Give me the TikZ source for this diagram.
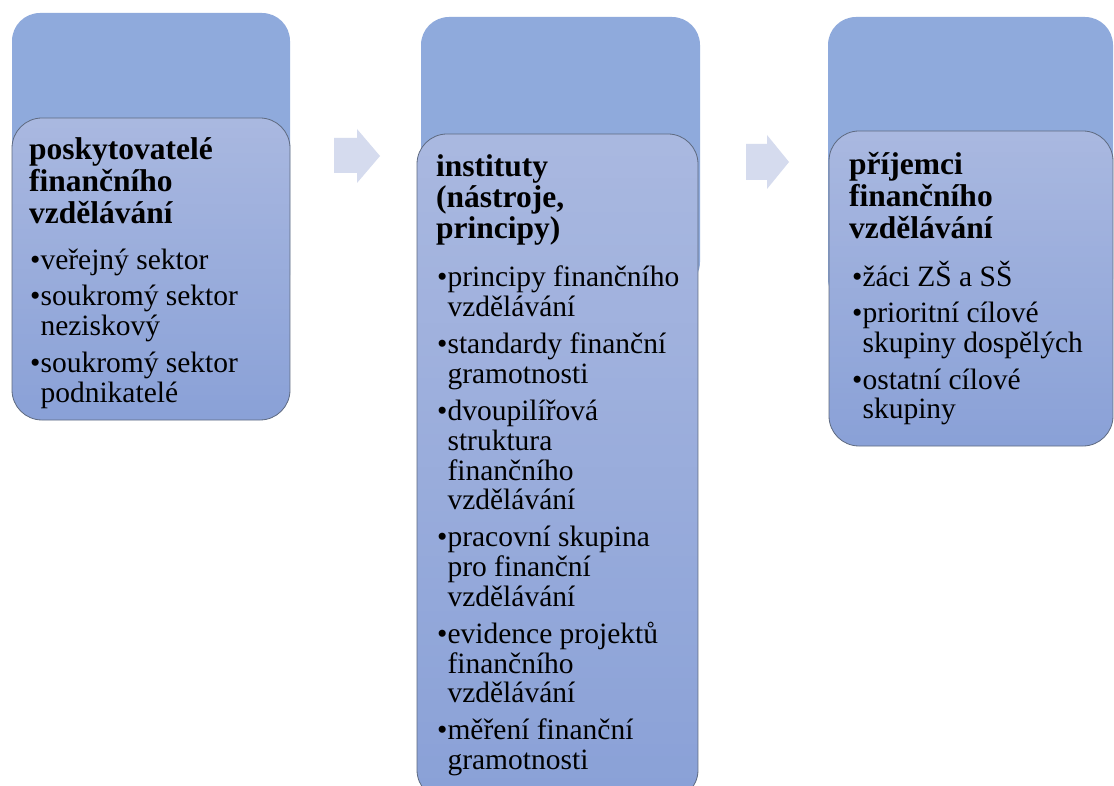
\documentclass[tikz,border=0pt]{standalone}
\usepackage{fontspec}
\setmainfont{Liberation Serif}
\usetikzlibrary{calc}
\definecolor{backc}{HTML}{8FAADC}
\definecolor{fronttop}{HTML}{A9B8E0}
\definecolor{frontbot}{HTML}{8AA1D7}
\definecolor{edgec}{HTML}{5E6A80}
\definecolor{arrowc}{HTML}{D5DBEE}
\newcommand{\cont}{\hphantom{•}}
\begin{document}
\begin{tikzpicture}[x=1pt,y=-1pt,
  backbox/.style={anchor=north west, inner sep=0, outer sep=0, draw=none, fill=backc, rounded corners=28pt},
  frontbox/.style={anchor=north west, inner sep=0, outer sep=0, draw=edgec, line width=0.8pt, rounded corners=30pt,
    path picture={
      \foreach \k in {0,...,59}{
        \pgfmathsetmacro{\p}{100-\k*100/59}
        \fill[sharp corners, fronttop!\p!frontbot]
          ($(path picture bounding box.north west)!{\k/60}!(path picture bounding box.south west)$)
          rectangle
          ($(path picture bounding box.north east)!{(\k+1)/60+0.003}!(path picture bounding box.south east)$);
      }
    }},
  ttl/.style={anchor=base west, inner sep=0, font=\bfseries\fontsize{31.5}{32}\selectfont},
  ln/.style={anchor=base west, inner sep=0, font=\fontsize{29.5}{30}\selectfont},
  arr/.style={fill=arrowc, draw=none}]
\useasboundingbox[fill=white] (0,0) rectangle (1114,786);

% column 1
\node[backbox, minimum width=278pt, minimum height=290pt] (b1) at (12,13) {};
\node[frontbox, minimum width=278pt, minimum height=302pt] (f1) at (12,118) {};
\node[ttl] (t1a) at (29,160) {poskytovatelé};
\node[ttl] (t1b) at (29,192) {finančního};
\node[ttl] (t1c) at (29,224) {vzdělávání};
\node[ln] (l1a) at (30,270) {•veřejný sektor};
\node[ln] (l1b) at (30,306) {•soukromý sektor};
\node[ln] (l1c) at (30,336) {\cont neziskový};
\node[ln] (l1d) at (30,372) {•soukromý sektor};
\node[ln] (l1e) at (30,402) {\cont podnikatelé};

% arrow 1
\path[arr] (334,138) -- (357,138) -- (357,129) -- (380,156) -- (357,183) -- (357,173) -- (334,173) -- cycle;

% column 2
\node[backbox, minimum width=279pt, minimum height=273pt] (b2) at (421,17) {};
\node[frontbox, minimum width=281pt, minimum height=666pt] (f2) at (417,134) {};
\node[ttl] (t2a) at (436,177) {instituty};
\node[ttl] (t2b) at (436,208) {(nástroje,};
\node[ttl] (t2c) at (436,239) {principy)};
\node[ln] (l2a) at (437,287) {•principy finančního};
\node[ln] (l2b) at (437,317) {\cont vzdělávání};
\node[ln] (l2c) at (437,354) {•standardy finanční};
\node[ln] (l2d) at (437,383.5) {\cont gramotnosti};
\node[ln] (l2e) at (437,420.5) {•dvoupilířová};
\node[ln] (l2f) at (437,450) {\cont struktura};
\node[ln] (l2g) at (437,480) {\cont finančního};
\node[ln] (l2h) at (437,509.5) {\cont vzdělávání};
\node[ln] (l2i) at (437,546.5) {•pracovní skupina};
\node[ln] (l2j) at (437,576) {\cont pro finanční};
\node[ln] (l2k) at (437,606) {\cont vzdělávání};
\node[ln] (l2l) at (437,643) {•evidence projektů};
\node[ln] (l2m) at (437,673) {\cont finančního};
\node[ln] (l2n) at (437,702) {\cont vzdělávání};
\node[ln] (l2o) at (437,739.5) {•měření finanční};
\node[ln] (l2p) at (437,769) {\cont gramotnosti};

% arrow 2
\path[arr] (746,144) -- (767,144) -- (767,135) -- (789,162) -- (767,189) -- (767,180) -- (746,180) -- cycle;

% column 3
\node[backbox, minimum width=285pt, minimum height=290pt] (b3) at (828,17) {};
\node[frontbox, minimum width=284pt, minimum height=315pt] (f3) at (829,131) {};
\node[ttl] (t3a) at (849,175) {příjemci};
\node[ttl] (t3b) at (849,207) {finančního};
\node[ttl] (t3c) at (849,239) {vzdělávání};
\node[ln] (l3a) at (852,287) {•žáci ZŠ a SŠ};
\node[ln] (l3b) at (852,323) {•prioritní cílové};
\node[ln] (l3c) at (852,352.5) {\cont skupiny dospělých};
\node[ln] (l3d) at (852,389) {•ostatní cílové};
\node[ln] (l3e) at (852,418.5) {\cont skupiny};
\end{tikzpicture}
\end{document}
